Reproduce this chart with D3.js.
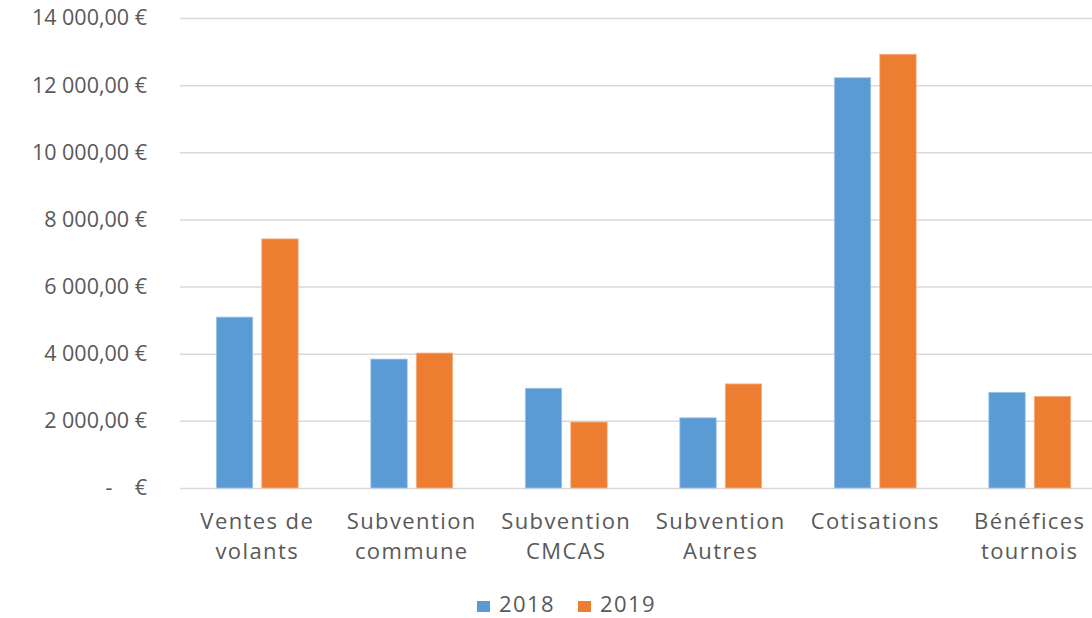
<!DOCTYPE html>
<html>
<head>
<meta charset="utf-8">
<script src="https://cdn.jsdelivr.net/npm/d3@7"></script>
<style>
  html, body { margin: 0; padding: 0; background: #fff; }
  svg text { font-family: "Open Sans", sans-serif; fill: #595959; }
</style>
</head>
<body>
<div id="chart"></div>
<script>
// Data
const categories = ["Ventes de\nvolants", "Subvention\ncommune", "Subvention\nCMCAS",
  "Subvention\nAutres", "Cotisations", "Bénéfices\ntournois"];
const series = ["2018", "2019"];
const values2018 = [5090, 3840, 2970, 2090, 12220, 2850];
const values2019 = [7420, 4020, 1965, 3100, 12920, 2730];
const yTicks = [0, 2000, 4000, 6000, 8000, 10000, 12000, 14000];
const colors = ["#5B9BD5", "#ED7D31"];

const W = 1092, H = 618;
const plot = { left: 180, right: 1107, top: 18, bottom: 488 };

const fr = d3.formatLocale({ decimal: ",", thousands: "\u00a0", grouping: [3], currency: ["", " €"] });
const fmt = v => v === 0 ? "-    €" : fr.format(",.2f")(v) + " €";

const svg = d3.select("#chart").append("svg")
  .attr("width", W)
  .attr("height", H);

const y = d3.scaleLinear().domain([0, 14000]).range([plot.bottom, plot.top]);

const x0 = d3.scaleBand().domain(categories).range([plot.left, plot.right]).padding(0);
const x1 = d3.scaleBand().domain(series).range([0, x0.bandwidth()])
  .paddingInner(0.2).paddingOuter(0.8);

// y axis with gridlines
const yAxis = svg.append("g")
  .attr("transform", "translate(" + plot.left + ",0)")
  .call(d3.axisLeft(y).tickValues(yTicks).tickFormat(fmt)
    .tickSize(-(W - plot.left)).tickPadding(33));
yAxis.select(".domain").remove();
yAxis.selectAll(".tick line").attr("stroke", "#d9d9d9").attr("stroke-width", 1.5);
yAxis.selectAll(".tick text")
  .style("font-size", "21.5px")
  .style("white-space", "pre")
  .attr("fill", "#595959");

// bars
const rows = categories.map((c, i) => ({ cat: c, vals: [values2018[i], values2019[i]] }));
const groups = svg.append("g").selectAll("g")
  .data(rows)
  .join("g")
  .attr("transform", d => "translate(" + x0(d.cat) + ",0)");

groups.selectAll("rect")
  .data(d => d.vals.map((v, j) => ({ s: series[j], v: v, j: j })))
  .join("rect")
  .attr("x", d => x1(d.s))
  .attr("width", x1.bandwidth())
  .attr("y", d => y(d.v))
  .attr("height", d => y(0) - y(d.v))
  .attr("fill", d => colors[d.j])
  .attr("stroke", d => d.j === 0 ? "#9dc3e6" : "#f4b183")
  .attr("stroke-width", 0.8);

// category labels (spaced out like the original)
const xl = svg.append("g").selectAll("text")
  .data(categories)
  .join("text")
  .attr("x", d => x0(d) + x0.bandwidth() / 2)
  .attr("y", 529)
  .attr("text-anchor", "middle")
  .style("font-size", "22px")
  .style("letter-spacing", "1.4px");
xl.selectAll("tspan")
  .data(d => d.split("\n"))
  .join("tspan")
  .attr("x", function () { return d3.select(this.parentNode).attr("x"); })
  .attr("dy", (d, i) => i === 0 ? 0 : 30)
  .text(d => d);

// legend
const legendX = [477, 578];
const legend = svg.append("g").selectAll("g")
  .data(series)
  .join("g")
  .attr("transform", (d, i) => "translate(" + legendX[i] + ",601)");
legend.append("rect")
  .attr("width", 13).attr("height", 11)
  .attr("fill", (d, i) => colors[i]);
legend.append("text")
  .attr("x", 22).attr("y", 11)
  .style("font-size", "22px")
  .style("letter-spacing", "1.4px")
  .text(d => d);
</script>
</body>
</html>
